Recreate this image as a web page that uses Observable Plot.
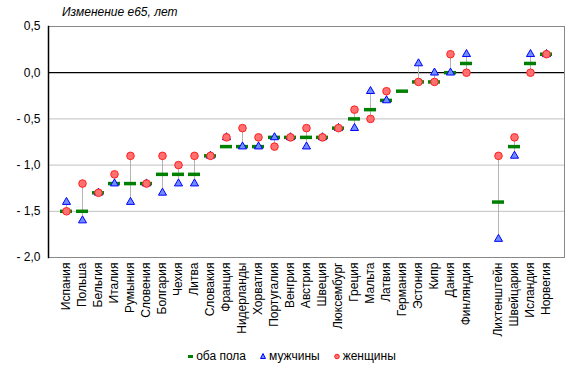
<!DOCTYPE html>
<html><head><meta charset="utf-8">
<script src="https://cdn.jsdelivr.net/npm/d3@7"></script>
<script src="https://cdn.jsdelivr.net/npm/@observablehq/plot@0.6"></script>
<style>
body{margin:0;background:#fff;font-family:"Liberation Sans",Arial,sans-serif;}
#wrap{position:relative;width:578px;height:373px;}
#title{position:absolute;left:62px;top:5px;font-style:italic;font-size:12px;color:#000;}
#legend{position:absolute;top:349px;left:0;width:578px;font-size:12px;display:flex;justify-content:center;gap:14px;color:#000;padding-left:6px;box-sizing:border-box;}
#legend span{display:inline-flex;align-items:center;}
#legend svg{display:block;margin-right:3px;}
</style></head><body>
<div id="wrap">
<div id="chart"></div>
<div id="title">Изменение e65, лет</div>
<div id="legend">
<span><svg width="5" height="8" style="width:5px;height:8px"><rect x="0" y="3" width="5" height="3" fill="#008000"/></svg>оба пола</span>
<span><svg width="6" height="8" style="width:6px;height:8px"><path d="M3,1.5 L5.5,6.5 L0.5,6.5 Z" fill="#6f8fff" stroke="#0000ff" stroke-width="1"/></svg>мужчины</span>
<span><svg width="6" height="8" style="width:6px;height:8px"><circle cx="3" cy="4.5" r="2.3" fill="#ff7070" stroke="#ff2020" stroke-width="1"/></svg>женщины</span>
</div>
</div>
<script>
const countries = ["Испания","Польша","Бельгия","Италия","Румыния","Словения","Болгария","Чехия","Литва","Словакия","Франция","Нидерланды","Хорватия","Португалия","Венгрия","Австрия","Швеция","Люксембург","Греция","Мальта","Латвия","Германия","Эстония","Кипр","Дания","Финляндия"," ","Лихтенштейн","Швейцария","Исландия","Норвегия"];
const both  = [-1.5,-1.5,-1.3,-1.2,-1.2,-1.2,-1.1,-1.1,-1.1,-0.9,-0.8,-0.8,-0.8,-0.7,-0.7,-0.7,-0.7,-0.6,-0.5,-0.4,-0.3,-0.2,-0.1,-0.1,0.0,0.1,null,-1.4,-0.8,0.1,0.2];
const men   = [-1.4,-1.6,-1.3,-1.2,-1.4,-1.2,-1.3,-1.2,-1.2,-0.9,-0.7,-0.8,-0.8,-0.7,-0.7,-0.8,-0.7,-0.6,-0.6,-0.2,-0.3,null,0.1,0.0,0.0,0.2,null,-1.8,-0.9,0.2,0.2];
const women = [-1.5,-1.2,-1.3,-1.1,-0.9,-1.2,-0.9,-1.0,-0.9,-0.9,-0.7,-0.6,-0.7,-0.8,-0.7,-0.6,-0.7,-0.6,-0.4,-0.5,-0.2,null,-0.1,-0.1,0.2,0.0,null,-0.9,-0.7,0.0,0.2];
const yTicks = [-2,-1.5,-1,-0.5,0,0.5];
const gridTicks = [-1.5,-1,-0.5];

const data = countries.map((c,i)=>({country:c, both:both[i], men:men[i], women:women[i]}));
const fmt = d => (d<0 ? "- " : "") + Math.abs(d).toFixed(1).replace(".",",");

const chart = Plot.plot({
  width:578, height:340,
  marginTop:26, marginLeft:48, marginRight:14, marginBottom:83,
  style:{fontFamily:"'Liberation Sans', Arial, sans-serif", fontSize:"12px", color:"#000", background:"#fff"},
  x:{type:"band", domain:countries, padding:0, label:null},
  y:{domain:[-2,0.5], label:null},
  marks:[
    Plot.ruleY(gridTicks,{stroke:"#c0c0c0", strokeWidth:1}),
    Plot.ruleY([0],{stroke:"#000", strokeWidth:1.2}),
    Plot.frame({stroke:"#888", strokeWidth:1}),
    Plot.frame({anchor:"left", stroke:"#000", strokeWidth:1.5}),
    Plot.axisY({ticks:yTicks, tickFormat:fmt, tickSize:0, tickPadding:8, fontSize:12, label:null}),
    Plot.axisX({tickSize:0, tickRotate:-90, tickPadding:5, fontSize:12, tickFormat:d=>d.trim(), label:null}),
    Plot.ruleX(data.filter(d=>d.men!=null),{x:"country", y1:"men", y2:"women", stroke:"#b4b4b4", strokeWidth:1}),
    Plot.tickY(data.filter(d=>d.both!=null),{x:"country", y:"both", stroke:"#008000", strokeWidth:3.5, inset:2}),
    Plot.dot(data.filter(d=>d.men!=null),{x:"country", y:"men", symbol:"triangle", r:3, fill:"#6f8fff", stroke:"#0000ff", strokeWidth:1, fillOpacity:1}),
    Plot.dot(data.filter(d=>d.women!=null),{x:"country", y:"women", r:3.8, fill:"#ff7070", stroke:"#ff2020", strokeWidth:1, fillOpacity:1})
  ]
});
document.getElementById("chart").appendChild(chart);
</script>
</body></html>
